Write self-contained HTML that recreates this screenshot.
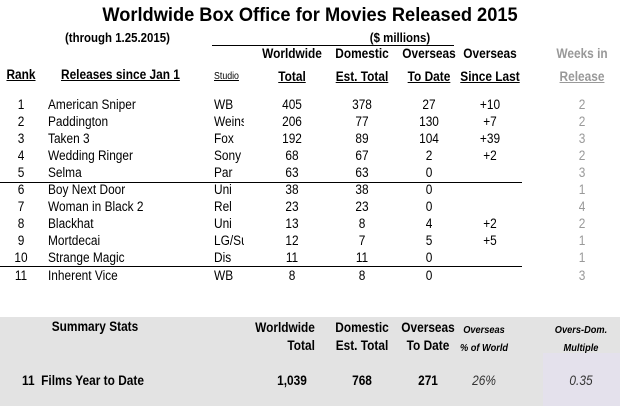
<!DOCTYPE html>
<html><head><meta charset="utf-8"><style>
body{margin:0;width:620px;height:406px;background:#fff;font-family:"Liberation Sans",Arial,sans-serif;position:relative;overflow:hidden;color:#000}
.t{position:absolute;white-space:nowrap;font-size:13.5px;line-height:16px;transform:scaleX(0.88);transform-origin:0 0}
.c{transform:translateX(-50%) scaleX(0.88);transform-origin:50% 0}
.b{font-weight:bold}
.u{text-decoration:underline}
.g{color:#999}
.ln{position:absolute;height:1px;background:#000}
</style></head><body>
<div class="t b c" style="left:310px;top:5px;font-size:19px;line-height:22px;transform:translateX(-50%) scaleX(0.96)">Worldwide Box Office for Movies Released 2015</div>
<div class="t b" style="left:65px;top:30px;font-size:13px">(through 1.25.2015)</div>
<div class="t b c" style="left:400px;top:30px;font-size:13px">($ millions)</div>
<div class="ln" style="left:212px;top:45px;width:242px"></div>
<div id="hdr"></div>
<div id="rows"></div>
<div class="ln" style="left:0;top:182px;width:522px"></div>
<div class="ln" style="left:0;top:266px;width:522px"></div>
<div style="position:absolute;left:0;top:317px;width:620px;height:89px;background:#e3e3e3"></div>
<div style="position:absolute;left:543px;top:353px;width:77px;height:53px;background:#e4e1ec"></div>
<div class="t b c" style="left:95px;top:319px">Summary Stats</div>
<div class="t b c" style="left:285px;top:319px;text-align:right;line-height:18px">Worldwide<br>Total</div>
<div class="t b c" style="left:362px;top:319px;text-align:center;line-height:18px">Domestic<br>Est. Total</div>
<div class="t b c" style="left:428px;top:319px;text-align:center;line-height:18px">Overseas<br>To Date</div>
<div class="t b c" style="left:484px;top:321px;text-align:center;font-style:italic;font-size:10.5px;line-height:18px">Overseas<br>% of World</div>
<div class="t b c" style="left:581px;top:321px;text-align:center;font-style:italic;font-size:10.5px;line-height:18px">Overs-Dom.<br>Multiple</div>
<div class="t b" style="left:22px;top:373px">11&nbsp;&nbsp;Films Year to Date</div>
<div class="t b c" style="left:292px;top:373px">1,039</div>
<div class="t b c" style="left:362px;top:373px">768</div>
<div class="t b c" style="left:428px;top:373px">271</div>
<div class="t c" style="left:484px;top:373px;font-style:italic;color:#333">26%</div>
<div class="t c" style="left:581px;top:373px;font-style:italic;color:#333">0.35</div>
<script>
const ranks=[1,2,3,4,5,6,7,8,9,10,11];
const titles=["American Sniper","Paddington","Taken 3","Wedding Ringer","Selma","Boy Next Door","Woman in Black 2","Blackhat","Mortdecai","Strange Magic","Inherent Vice"];
const studios=["WB","Weins","Fox","Sony","Par","Uni","Rel","Uni","LG/Su","Dis","WB"];
const worldwide=[405,206,192,68,63,38,23,13,12,11,8];
const domestic=[378,77,89,67,63,38,23,8,7,11,8];
const overseas=[27,130,104,2,0,0,0,4,5,0,0];
const sinceLast=["+10","+7","+39","+2","","","","+2","+5","",""];
const weeks=[2,2,3,2,3,1,4,2,1,1,3];
function mk(parent,cls,name,left,top,text,extra){
  const d=document.createElement('div');
  d.className='t '+cls;
  
  
  d.style.left=left+'px';d.style.top=top+'px';
  if(extra)d.style.cssText+=extra;
  d.innerHTML=text;parent.appendChild(d);return d;
}
const H=document.getElementById('hdr');
mk(H,'b u c','header-rank',21,67,'Rank');
mk(H,'b u','header-releases',61,67,'Releases since Jan 1');
mk(H,'u','header-studio',214,69,'Studio','font-size:10px');
mk(H,'b c','header-worldwide',292,42,'Worldwide<br><span class="u">Total</span>','text-align:center;line-height:23px');
mk(H,'b c','header-domestic',362,42,'Domestic<br><span class="u">Est. Total</span>','text-align:center;line-height:23px');
mk(H,'b c','header-overseas',429,42,'Overseas<br><span class="u">To Date</span>','text-align:center;line-height:23px');
mk(H,'b c','header-since-last',490,42,'Overseas<br><span class="u">Since Last</span>','text-align:center;line-height:23px');
mk(H,'b c g','header-weeks',582,42,'Weeks in<br><span class="u">Release</span>','text-align:center;line-height:23px');
const R=document.getElementById('rows');
function yRow(i){return 97+i*17.05;}
ranks.forEach((r,i)=>{
  const y=yRow(i);
  mk(R,'c','rank-cell',21,y,r);
  mk(R,'','title-cell',48,y,titles[i]);
  mk(R,'','studio-cell',214,y,'<span style="display:inline-block;width:34px;overflow:hidden">'+studios[i]+'</span>');
  mk(R,'c','worldwide-cell',292,y,worldwide[i]);
  mk(R,'c','domestic-cell',362,y,domestic[i]);
  mk(R,'c','overseas-cell',429,y,overseas[i]);
  mk(R,'c','since-last-cell',490,y,sinceLast[i]);
  mk(R,'c g','weeks-cell',582,y,weeks[i]);
});
</script>
</body></html>
